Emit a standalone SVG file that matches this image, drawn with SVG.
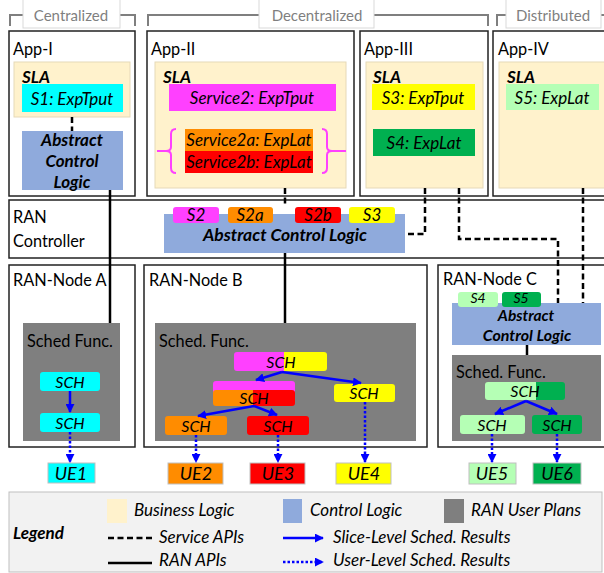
<svg xmlns="http://www.w3.org/2000/svg" width="604" height="573" viewBox="0 0 604 573">
<defs>
<style>
text{font-family:Lato,"Liberation Sans",sans-serif;fill:#000}
.lbl{font-size:16.3px}
.brk{font-size:15px;fill:#7f7f7f}
.b{font-weight:bold;font-style:italic;font-size:17px}
.i{font-style:italic;font-size:17px}
.s{font-size:16px}
.u{font-size:18px}
.tg{font-size:14px}
.frame{fill:#fff;stroke:#222;stroke-width:1.5}
.biz{fill:#fff2cc;stroke:#e6d9b8;stroke-width:1}
.ctl{fill:#8faadc}
.usr{fill:#7f7f7f}
.dash{fill:none;stroke:#000;stroke-width:2.5;stroke-dasharray:6,3.5}
.solid{fill:none;stroke:#000;stroke-width:2.5}
.arr{fill:none;stroke:#0000ff;stroke-width:2.5;marker-end:url(#ah)}
.dot{fill:none;stroke:#0000ff;stroke-width:2.5;stroke-dasharray:2.5,2;marker-end:url(#ah)}
.cyan{fill:#00ffff}.mag{fill:#ff40ff}.org{fill:#ff8c00}.red{fill:#ff0000}.yel{fill:#ffff00}.grn{fill:#00b050}.lgr{fill:#b5ffb5}
.ue{stroke:#bfbfbf;stroke-width:1}
.m{text-anchor:middle}
</style>
<marker id="ah" viewBox="0 0 10 10" refX="9" refY="5" markerWidth="3.6" markerHeight="3.6" orient="auto" markerUnits="strokeWidth"><path d="M0,0 L10,5 L0,10 z" fill="#0000ff"/></marker>
</defs>

<g id="brackets">
<path d="M10,26 V15 H135 V26" fill="none" stroke="#7f7f7f" stroke-width="2"/>
<rect x="23" y="-1" width="97" height="29" fill="#fff" stroke="#d9d9d9"/>
<text class="brk m" x="71" y="21">Centralized</text>
<path d="M148,26 V15 H488 V26" fill="none" stroke="#7f7f7f" stroke-width="2"/>
<rect x="259" y="-1" width="115" height="29" fill="#fff" stroke="#d9d9d9"/>
<text class="brk m" x="317" y="21">Decentralized</text>
<path d="M497,26 V15 H610" fill="none" stroke="#7f7f7f" stroke-width="2"/>
<rect x="506" y="-1" width="95" height="29" fill="#fff" stroke="#d9d9d9"/>
<text class="brk m" x="553" y="21">Distributed</text>
</g>

<g id="app1">
<rect class="frame" x="9" y="31" width="126" height="165"/>
<text class="lbl" x="13" y="55">App-I</text>
<rect class="biz" x="14" y="62" width="116" height="55"/>
<text class="b" x="22" y="83">SLA</text>
<rect class="cyan" x="22" y="84" width="101" height="28"/>
<text class="i m" x="72" y="104.5">S1: ExpTput</text>
<rect class="ctl" x="22" y="131" width="101" height="59"/>
<text class="b m" x="72" y="146">Abstract</text>
<text class="b m" x="72" y="167">Control</text>
<text class="b m" x="72" y="188">Logic</text>
</g>

<g id="app2">
<rect class="frame" x="147" y="31" width="207" height="165"/>
<text class="lbl" x="151" y="55">App-II</text>
<rect class="biz" x="155" y="62" width="191" height="126"/>
<text class="b" x="163" y="83">SLA</text>
<rect class="mag" x="169" y="84" width="167" height="27"/>
<text class="i m" x="252" y="104">Service2: ExpTput</text>
<rect class="org" x="185" y="129" width="128" height="22"/>
<rect class="red" x="185" y="151" width="128" height="22"/>
<text class="i m" x="249" y="146">Service2a: ExpLat</text>
<text class="i m" x="249" y="168">Service2b: ExpLat</text>
<path d="M176,129 Q171,129 171,134 V147 Q171,151 166,151 H157 M166,151 Q171,151 171,155 V168 Q171,173 176,173" fill="none" stroke="#ff40ff" stroke-width="2"/>
<path d="M322,129 Q327,129 327,134 V147 Q327,151 332,151 H346 M332,151 Q327,151 327,155 V168 Q327,173 322,173" fill="none" stroke="#ff40ff" stroke-width="2"/>
</g>

<g id="app3">
<rect class="frame" x="360" y="31" width="128" height="165"/>
<text class="lbl" x="364" y="55">App-III</text>
<rect class="biz" x="366" y="62" width="117" height="126"/>
<text class="b" x="373" y="83">SLA</text>
<rect class="yel" x="372" y="84" width="103" height="26"/>
<text class="i m" x="423" y="103.5">S3: ExpTput</text>
<rect class="grn" x="373" y="129" width="102" height="27"/>
<text class="i m" x="424" y="148.5">S4: ExpLat</text>
</g>

<g id="app4">
<rect class="frame" x="493" y="31" width="120" height="165"/>
<text class="lbl" x="498" y="55">App-IV</text>
<rect class="biz" x="499" y="62" width="110" height="126"/>
<text class="b" x="507" y="83">SLA</text>
<rect class="lgr" x="506" y="84" width="93" height="26"/>
<text class="i m" x="552" y="103.5">S5: ExpLat</text>
</g>

<g id="controller">
<rect class="frame" x="9" y="200" width="604" height="58"/>
<text class="lbl" x="13" y="223">RAN</text>
<text class="lbl" x="13" y="247">Controller</text>
<rect class="ctl" x="164" y="214" width="241" height="39"/>
<rect class="mag" x="173" y="207" width="46" height="16" rx="3"/>
<text class="i m" x="196" y="221">S2</text>
<rect class="org" x="228" y="207" width="45" height="16" rx="3"/>
<text class="i m" x="250" y="221">S2a</text>
<rect class="red" x="295" y="207" width="46" height="16" rx="3"/>
<text class="i m" x="318" y="221">S2b</text>
<rect class="yel" x="349" y="207" width="46" height="16" rx="3"/>
<text class="i m" x="372" y="221">S3</text>
<text class="b m" x="285" y="241" style="font-size:17.5px">Abstract Control Logic</text>
</g>

<g id="nodeA">
<rect class="frame" x="9" y="265" width="126" height="182"/>
<text class="lbl" x="13" y="286">RAN-Node A</text>
<rect class="usr" x="23" y="323" width="97" height="118"/>
<text class="lbl" x="27" y="347">Sched Func.</text>
<rect class="cyan" x="40" y="372" width="60" height="19" rx="3"/>
<text class="i s m" x="70" y="387.5">SCH</text>
<rect class="cyan" x="40" y="413" width="60" height="19" rx="3"/>
<text class="i s m" x="70" y="428.5">SCH</text>
<rect class="cyan ue" x="48" y="463" width="47" height="20"/>
<text class="i u m" x="71" y="479.5">UE1</text>
</g>

<g id="nodeB">
<rect class="frame" x="144" y="265" width="283" height="182"/>
<text class="lbl" x="149" y="286">RAN-Node B</text>
<rect class="usr" x="155" y="323" width="261" height="118"/>
<text class="lbl" x="159" y="347">Sched. Func.</text>
<path class="mag" d="M237,352 H284 V371 H237 Q234,371 234,368 V355 Q234,352 237,352 z"/>
<path class="yel" d="M284,352 H324 Q327,352 327,355 V368 Q327,371 324,371 H284 z"/>
<text class="i s m" x="281" y="367.5">SCH</text>
<rect class="mag" x="213" y="381" width="82" height="17" rx="3"/>
<path class="org" d="M216,390 H253 V406 H216 Q213,406 213,403 V393 Q213,390 216,390 z"/>
<path class="red" d="M253,390 H292 Q295,390 295,393 V403 Q295,406 292,406 H253 z"/>
<text class="i s m" x="254" y="404">SCH</text>
<rect class="yel" x="334" y="384" width="61" height="18" rx="3"/>
<text class="i s m" x="364" y="399">SCH</text>
<rect class="org" x="165" y="416" width="62" height="19" rx="3"/>
<text class="i s m" x="196" y="431.5">SCH</text>
<rect class="red" x="247" y="416" width="62" height="19" rx="3"/>
<text class="i s m" x="278" y="431.5">SCH</text>
<rect class="org ue" x="168" y="463" width="55" height="21"/>
<text class="i u m" x="196" y="480">UE2</text>
<rect class="red ue" x="250" y="463" width="55" height="21"/>
<text class="i u m" x="278" y="480">UE3</text>
<rect class="yel ue" x="336" y="463" width="55" height="21"/>
<text class="i u m" x="364" y="480">UE4</text>
</g>

<g id="nodeC">
<rect class="frame" x="438" y="265" width="175" height="182"/>
<text class="lbl" x="443" y="285">RAN-Node C</text>
<rect class="ctl" x="452" y="303" width="149" height="42"/>
<rect class="lgr" x="458" y="292" width="40" height="15" rx="3"/>
<text class="i tg m" x="478" y="303">S4</text>
<rect class="grn" x="502" y="292" width="39" height="15" rx="3"/>
<text class="i tg m" x="521" y="303">S5</text>
<text class="b m" x="526" y="321" style="font-size:15.5px">Abstract</text>
<text class="b m" x="527" y="341" style="font-size:16px">Control Logic</text>
<rect class="usr" x="452" y="355" width="149" height="86"/>
<text class="lbl" x="456" y="378">Sched. Func.</text>
<path class="lgr" d="M488,382 H536 V400 H488 Q485,400 485,397 V385 Q485,382 488,382 z"/>
<path class="grn" d="M536,382 H562 Q565,382 565,385 V397 Q565,400 562,400 H536 z"/>
<text class="i s m" x="525" y="396.5">SCH</text>
<rect class="lgr" x="460" y="415" width="65" height="19" rx="3"/>
<text class="i s m" x="492" y="430.5">SCH</text>
<rect class="grn" x="532" y="415" width="50" height="19" rx="3"/>
<text class="i s m" x="557" y="430.5">SCH</text>
<rect class="lgr ue" x="469" y="463" width="47" height="21"/>
<text class="i u m" x="492" y="480">UE5</text>
<rect class="grn ue" x="533" y="463" width="48" height="21"/>
<text class="i u m" x="557" y="480">UE6</text>
</g>

<g id="connectors">
<path class="dash" d="M72,117 V131"/>
<path class="solid" d="M110,190 V323"/>
<path class="dash" d="M285,188 V207"/>
<path class="solid" d="M285,253 V323"/>
<path class="dash" d="M425,188 V234 H405"/>
<path class="dash" d="M459,188 V239 H558 V303"/>
<path class="dash" d="M583,188 V303"/>
<path class="solid" d="M527,345 V355"/>
<path class="arr" d="M70,391 V412"/>
<path class="dot" d="M70,432 V462"/>
<path class="arr" d="M282,372 L256,380"/>
<path class="arr" d="M282,372 L361,383"/>
<path class="arr" d="M254,406 L198,416"/>
<path class="arr" d="M254,406 L277,415"/>
<path class="dot" d="M196,435 V462"/>
<path class="dot" d="M278,435 V462"/>
<path class="dot" d="M365,402 V462"/>
<path class="arr" d="M526,401 L495,414"/>
<path class="arr" d="M526,401 L557,414"/>
<path class="dot" d="M492,434 V462"/>
<path class="dot" d="M557,434 V462"/>
</g>

<g id="legend">
<rect x="9" y="492" width="593" height="80" fill="#f2f2f2" stroke="#bfbfbf" stroke-width="1"/>
<text class="b" x="13" y="539">Legend</text>
<rect x="107" y="499" width="20" height="24" fill="#fff2cc"/>
<text class="i" x="134" y="516">Business Logic</text>
<rect x="283" y="499" width="19" height="24" fill="#8faadc"/>
<text class="i" x="310" y="516">Control Logic</text>
<rect x="444" y="499" width="20" height="24" fill="#7f7f7f"/>
<text class="i" x="471" y="516">RAN User Plans</text>
<path class="dash" d="M108,538 H152" stroke-dasharray="5,2.5"/>
<text class="i" x="159" y="543">Service APIs</text>
<path class="solid" d="M108,563 H152"/>
<text class="i" x="159" y="566">RAN APIs</text>
<path class="arr" d="M283,538 H323"/>
<text class="i" x="333" y="543">Slice-Level Sched. Results</text>
<path class="dot" d="M283,562 H323"/>
<text class="i" x="333" y="566">User-Level Sched. Results</text>
</g>
</svg>
